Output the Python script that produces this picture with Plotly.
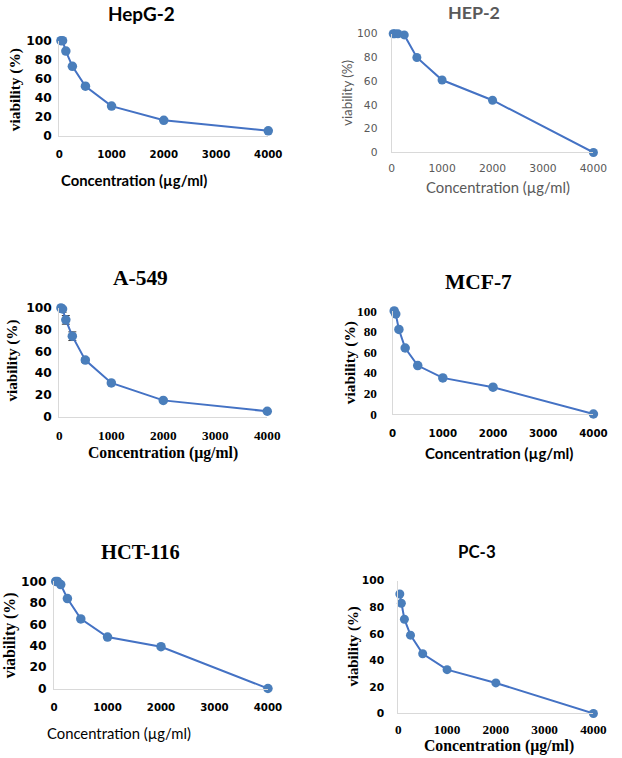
import plotly.graph_objects as go

W, H = 622, 758

conc = [31.25, 62.5, 125, 250, 500, 1000, 2000, 4000]
x_ticks = [0, 1000, 2000, 3000, 4000]
y_ticks = [0, 20, 40, 60, 80, 100]

hepg2 = [100, 100, 89, 73, 52, 31, 16, 5]
hep2 = [100, 100, 100, 99, 80, 61, 44, 0]
a549 = [100, 99, 89, 74, 52, 31, 15, 5]
a549_err = [1, 3, 4, 4, 2, 1, 1, 1]
mcf7 = [100, 97, 82, 64, 47, 35, 26, 0]
hct116 = [100, 100, 97, 84, 65, 48, 39, 0]
pc3 = [90, 83, 71, 59, 45, 33, 23, 0]

titles = ["HepG-2", "HEP-2", "A-549", "MCF-7", "HCT-116", "PC-3"]
series = [hepg2, hep2, a549, mcf7, hct116, pc3]
errors = [None, None, a549_err, None, None, None]

SANS = "Lato, 'Liberation Sans', Arial, sans-serif"
WIDE = "'DejaVu Sans', Verdana, sans-serif"
SERIF = "'Liberation Serif', 'Times New Roman', serif"
BLUE = "#4a7ebb"
LINE = "#4472c4"
GRAY = "#595959"

# the photographed page comes out slightly scaled; map picture px -> figure px
SX, OX, SY, OY = 0.976, 1.4, 0.982, 6.25
def fx(x):
    return min((x - OX) / SX, 607)
def fy(y):
    return (y - OY) / SY
def fs(s):
    return s / 0.978

# panel geometry / styling, in picture pixels
panels = [
    dict(ax=57, x4k=267, y100=40, y0=135, tpos=(140, 13), tfont=(SANS, 18.5, "black", "bold"),
         ytf=(WIDE, 12, "black", "bold"), xtf=(WIDE, 10, "black", "bold"),
         ylab=(12, 89, SERIF, 15, "black", "bold"), xlab=(132, 180, SANS, 14.5, "black", "bold"),
         ms=9.5, xstand=9, ystand=4),
    dict(ax=391, x4k=604, y100=33, y0=152, tpos=(474, 11), tfont=(SANS, 17.5, GRAY, "bold"),
         ytf=(WIDE, 10.5, GRAY, "normal"), xtf=(WIDE, 10.5, GRAY, "normal"),
         ylab=(346, 92.5, SANS, 13, GRAY, "normal"), xlab=(497.7, 186.7, SANS, 14.5, GRAY, "normal"),
         ms=9, xstand=6, ystand=11),
    dict(ax=57, x4k=266, y100=307.7, y0=416.7, tpos=(138.3, 278), tfont=(SERIF, 21, "black", "bold"),
         ytf=(WIDE, 12, "black", "bold"), xtf=(SERIF, 13, "black", "bold"),
         ylab=(10, 360.8, SERIF, 14.8, "black", "bold"), xlab=(161.7, 452.7, SERIF, 15.4, "black", "bold"),
         ms=9.5, xstand=6, ystand=4),
    dict(ax=392, x4k=606, y100=310.7, y0=414, tpos=(478.5, 281.7), tfont=(SERIF, 21, "black", "bold"),
         ytf=(SERIF, 13, "black", "bold"), xtf=(WIDE, 10, "black", "bold"),
         ylab=(348.7, 362.5, SERIF, 15, "black", "bold"), xlab=(499.3, 453.3, SANS, 14.7, "black", "bold"),
         ms=9.5, xstand=10, ystand=12),
    dict(ax=51.7, x4k=266.7, y100=581.7, y0=689, tpos=(138.3, 552.5), tfont=(SERIF, 20, "black", "bold"),
         ytf=(WIDE, 12, "black", "bold"), xtf=(WIDE, 10, "black", "bold"),
         ylab=(8.3, 635.8, SERIF, 15.5, "black", "bold"), xlab=(116.7, 733.3, SANS, 14.5, "black", "normal"),
         ms=9.5, xstand=9, ystand=4),
    dict(ax=397.7, x4k=601.7, y100=581, y0=714, tpos=(477, 551.7), tfont=(SANS, 16.5, "black", "bold"),
         ytf=(WIDE, 10.5, "black", "bold"), xtf=(SERIF, 13, "black", "bold"),
         ylab=(352.7, 647.5, SERIF, 14.5, "black", "bold"), xlab=(499.3, 747, SERIF, 15.4, "black", "bold"),
         ms=9, xstand=4, ystand=11),
]

fig = go.Figure()
annotations = []

for i, (p, name, vals, err) in enumerate(zip(panels, titles, series, errors)):
    n = "" if i == 0 else str(i + 1)
    xa, ya = "x" + n, "y" + n
    trace = dict(x=conc, y=vals, mode="lines+markers", xaxis=xa, yaxis=ya,
                 line=dict(color=LINE, width=2),
                 marker=dict(color=BLUE, size=p["ms"]),
                 cliponaxis=False, showlegend=False, hoverinfo="skip")
    if err is not None:
        trace["error_y"] = dict(type="data", array=err, color="#404040", thickness=1, width=4)
    fig.add_trace(go.Scatter(**trace))

    xdom = [fx(p["ax"]) / W, fx(p["x4k"]) / W]
    ydom = [1 - fy(p["y0"]) / H, 1 - fy(p["y100"]) / H]
    ff, fsz, fc, fw = p["xtf"]
    fig.layout["xaxis" + n] = dict(
        domain=xdom, range=[0, 4000], anchor=ya, tickvals=x_ticks,
        showgrid=False, zeroline=False, showline=True, linecolor="#d9d9d9", linewidth=1,
        ticks="", ticklabelstandoff=int(p["xstand"]),
        tickfont=dict(family=ff, size=fs(fsz), color=fc, weight=fw))
    ff, fsz, fc, fw = p["ytf"]
    fig.layout["yaxis" + n] = dict(
        domain=ydom, range=[0, 100], anchor=xa, tickvals=y_ticks,
        showgrid=False, zeroline=False, showline=True, linecolor="#d9d9d9", linewidth=1,
        ticks="", ticklabelstandoff=int(p["ystand"]),
        tickfont=dict(family=ff, size=fs(fsz), color=fc, weight=fw))

    tx, ty = p["tpos"]
    ff, fsz, fc, fw = p["tfont"]
    annotations.append(dict(text=name, x=fx(tx) / W, y=1 - fy(ty) / H, xref="paper", yref="paper",
                            xanchor="center", yanchor="middle", showarrow=False,
                            font=dict(family=ff, size=fs(fsz), color=fc, weight=fw)))
    lx, ly, ff, fsz, fc, fw = p["ylab"]
    annotations.append(dict(text="viability (%)", x=fx(lx) / W, y=1 - fy(ly) / H, xref="paper", yref="paper",
                            xanchor="center", yanchor="middle", showarrow=False, textangle=-90,
                            font=dict(family=ff, size=fs(fsz), color=fc, weight=fw)))
    lx, ly, ff, fsz, fc, fw = p["xlab"]
    annotations.append(dict(text="Concentration (µg/ml)", x=fx(lx) / W, y=1 - fy(ly) / H, xref="paper", yref="paper",
                            xanchor="center", yanchor="middle", showarrow=False,
                            font=dict(family=ff, size=fs(fsz), color=fc, weight=fw)))

fig.update_layout(width=W, height=H, margin=dict(l=0, r=0, t=0, b=0),
                  paper_bgcolor="white", plot_bgcolor="white",
                  annotations=annotations)

fig.write_html("out.html",
               config={"displayModeBar": False},
               post_script="document.body.style.margin='0';document.body.style.overflow='hidden';")
